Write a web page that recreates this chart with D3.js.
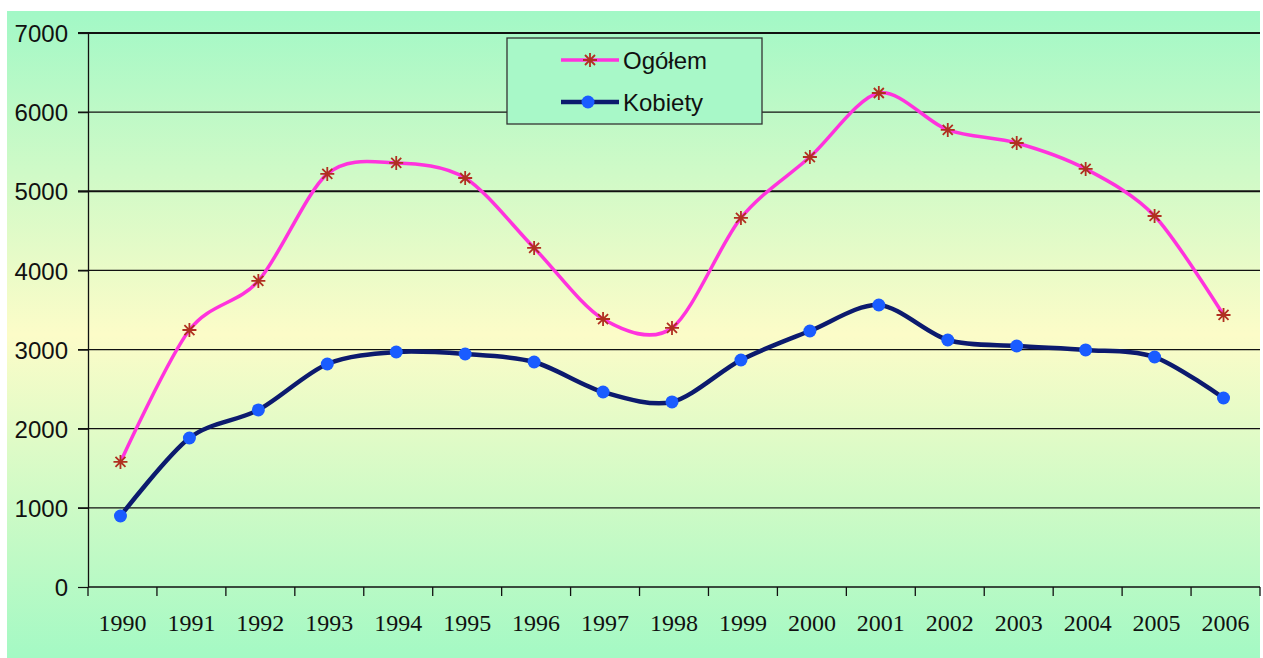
<!DOCTYPE html>
<html>
<head>
<meta charset="utf-8">
<script src="https://cdn.jsdelivr.net/npm/d3@7"></script>
<style>
  body { margin: 0; background: #fff; }
  svg { display: block; }
</style>
</head>
<body>
<svg id="chart"></svg>
<script>
// data
const years = ["1990", "1991", "1992", "1993", "1994", "1995", "1996", "1997", "1998",
               "1999", "2000", "2001", "2002", "2003", "2004", "2005", "2006"];
const ogolem = [1580, 3247, 3867, 5219, 5358, 5168, 4284, 3386, 3273,
                4663, 5433, 6242, 5775, 5610, 5282, 4688, 3437];
const kobiety = [897, 1883, 2237, 2818, 2969, 2944, 2843, 2464, 2338,
                 2868, 3235, 3563, 3121, 3045, 2995, 2906, 2388];
const yTicks = [0, 1000, 2000, 3000, 4000, 5000, 6000, 7000];

const width = 1263, height = 658;
const margin = { top: 33, right: 3, bottom: 71, left: 88 };

const svg = d3.select("#chart")
    .attr("width", width)
    .attr("height", height);

// background gradient (green - yellow - green)
const defs = svg.append("defs");
const grad = defs.append("linearGradient")
    .attr("id", "bg")
    .attr("x1", 0).attr("y1", 0).attr("x2", 0).attr("y2", 1);
grad.append("stop").attr("offset", "0%").attr("stop-color", "#a2f8c6");
grad.append("stop").attr("offset", "50%").attr("stop-color", "#fcfcc8");
grad.append("stop").attr("offset", "100%").attr("stop-color", "#a4f9c4");

svg.append("rect")
    .attr("x", 7).attr("y", 11)
    .attr("width", 1253).attr("height", 647)
    .attr("fill", "url(#bg)");

const x = d3.scaleBand()
    .domain(years)
    .range([margin.left, width - margin.right]);

const y = d3.scaleLinear()
    .domain([0, 7000])
    .range([height - margin.bottom, margin.top]);

// gridlines
svg.append("g")
    .selectAll("line")
    .data(yTicks.filter(d => d > 0))
    .join("line")
    .attr("x1", margin.left - 10)
    .attr("x2", width - margin.right)
    .attr("y1", d => y(d))
    .attr("y2", d => y(d))
    .attr("stroke", "#111")
    .attr("stroke-width", d => (d === 7000 || d === 5000) ? 2 : 1.2);

// y axis
const yAxis = svg.append("g")
    .attr("transform", `translate(${margin.left},0)`)
    .call(d3.axisLeft(y).tickValues(yTicks).tickSize(10).tickSizeOuter(0).tickFormat(d3.format("d")));
yAxis.select(".domain").attr("stroke", "#111").attr("stroke-width", 1.3);
yAxis.selectAll(".tick line").attr("stroke", "#111").attr("stroke-width", 1.2);
yAxis.selectAll("text")
    .attr("x", -20)
    .attr("dy", "0.36em")
    .attr("fill", "#111")
    .style("font-family", "Liberation Sans, Arial, sans-serif")
    .style("font-size", "24px");

// x axis with ticks at category boundaries
const xAxisG = svg.append("g")
    .attr("transform", `translate(0,${y(0)})`);
xAxisG.append("line")
    .attr("x1", margin.left).attr("x2", width - margin.right)
    .attr("stroke", "#111").attr("stroke-width", 1.5);
const bounds = years.map(d => x(d)).concat([x(years[years.length - 1]) + x.bandwidth()]);
xAxisG.selectAll(".bt")
    .data(bounds)
    .join("line")
    .attr("class", "bt")
    .attr("x1", d => d).attr("x2", d => d)
    .attr("y1", 0).attr("y2", 9)
    .attr("stroke", "#111").attr("stroke-width", 1.3);
xAxisG.selectAll("text")
    .data(years)
    .join("text")
    .attr("x", d => x(d) + x.bandwidth() / 2)
    .attr("y", 44)
    .attr("text-anchor", "middle")
    .attr("fill", "#111")
    .style("font-family", "Liberation Serif, Times New Roman, serif")
    .style("font-size", "24px")
    .text(d => d);

const cx = (d, i) => x(years[i]) + x.bandwidth() / 2 - 2;

const line = d3.line()
    .x((d, i) => cx(d, i))
    .y(d => y(d))
    .curve(d3.curveCardinal.tension(0.1));

// Ogółem
svg.append("path")
    .datum(ogolem)
    .attr("fill", "none")
    .attr("stroke", "#ff33dd")
    .attr("stroke-width", 3.5)
    .attr("d", line);

// Kobiety
svg.append("path")
    .datum(kobiety)
    .attr("fill", "none")
    .attr("stroke", "#0c1a6e")
    .attr("stroke-width", 4.5)
    .attr("d", line);

function asterisk(sel) {
    // eight-arm star: cross plus x
    sel.append("path")
        .attr("d", "M-7,0H7M0,-7V7M-5,-5L5,5M-5,5L5,-5")
        .attr("stroke", "#b03020")
        .attr("stroke-width", 1.8)
        .attr("fill", "none");
}

svg.append("g")
    .selectAll("g")
    .data(ogolem)
    .join("g")
    .attr("transform", (d, i) => `translate(${cx(d, i)},${y(d)})`)
    .call(asterisk);

svg.append("g")
    .selectAll("circle")
    .data(kobiety)
    .join("circle")
    .attr("cx", (d, i) => cx(d, i))
    .attr("cy", d => y(d))
    .attr("r", 6.5)
    .attr("fill", "#1a5cff");

// legend
const legend = svg.append("g");
legend.append("rect")
    .attr("x", 507).attr("y", 38)
    .attr("width", 255).attr("height", 86)
    .attr("fill", "#a8f8c8")
    .attr("stroke", "#333")
    .attr("stroke-width", 1.3);

const items = [
    { name: "Ogółem", color: "#ff33dd", w: 3.5, mark: "star", yy: 60 },
    { name: "Kobiety", color: "#0c1a6e", w: 4.5, mark: "dot", yy: 102 }
];
items.forEach(it => {
    const g = legend.append("g");
    g.append("line")
        .attr("x1", 561).attr("x2", 619)
        .attr("y1", it.yy).attr("y2", it.yy)
        .attr("stroke", it.color).attr("stroke-width", it.w);
    if (it.mark === "star") {
        g.append("g").attr("transform", `translate(590,${it.yy})`).call(asterisk);
    } else {
        g.append("circle").attr("cx", 588).attr("cy", it.yy).attr("r", 6.5).attr("fill", "#1a5cff");
    }
    g.append("text")
        .attr("x", 623).attr("y", it.yy)
        .attr("dy", "0.36em")
        .attr("fill", "#111")
        .style("font-family", "Liberation Sans, Arial, sans-serif")
        .style("font-size", "24px")
        .text(it.name);
});
</script>
</body>
</html>
